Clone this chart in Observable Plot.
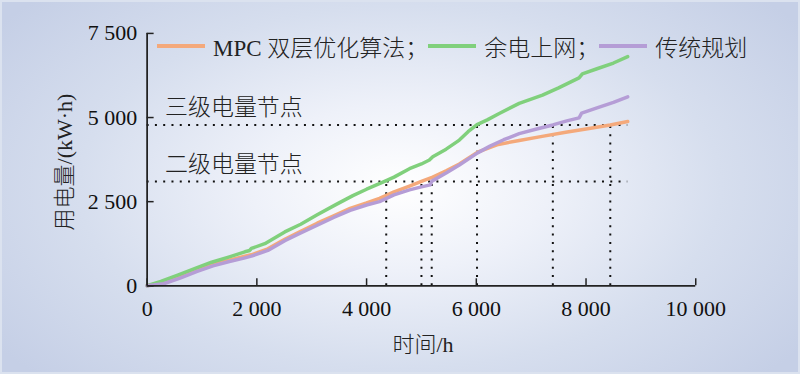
<!DOCTYPE html>
<html>
<head>
<meta charset="utf-8">
<script src="https://cdn.jsdelivr.net/npm/d3@7"></script>
<script src="https://cdn.jsdelivr.net/npm/@observablehq/plot@0.6"></script>
<style>
  html, body { margin: 0; padding: 0; }
  #wrap {
    position: relative; width: 800px; height: 374px; overflow: hidden;
    box-sizing: border-box; border: 2px solid #dbe2ef;
    background: radial-gradient(ellipse 62% 75% at 50% 50%, #ffffff 0%, #eef1f9 30%, #d6deee 65%, #c5cfe6 100%);
    font-family: "Liberation Serif", "Noto Sans CJK SC", serif;
    color: #222;
  }
  #chart { position: absolute; left: -2px; top: -2px; }
  .legend { position: absolute; top: 27px; left: 155px; display: flex; align-items: center; font-size: 23px; white-space: nowrap; font-weight: 300; }
  .legend .sw { display: inline-block; width: 48px; height: 3.5px; margin-right: 8px; }
  .legend .it { display: flex; align-items: center; }
  .ylab { position: absolute; left: 60px; top: 160px; transform: translate(-50%, -50%) rotate(-90deg); font-size: 22px; white-space: nowrap; font-weight: 300; }
  .xlab { position: absolute; left: 421px; top: 340px; transform: translate(-50%, -50%); font-size: 22px; white-space: nowrap; font-weight: 300; }
</style>
</head>
<body>
<div id="wrap">
  <div id="chart"></div>
</div>
<script>
// Series names and colours
const seriesNames = ["MPC 双层优化算法", "余电上网", "传统规划"];
const seriesColors = ["#f4a97b", "#80d07c", "#b59dd6"];

// MPC 双层优化算法 (hour, kW·h)
const mpcX = [0,300,600,900,1200,1500,1782,1900,2200,2509,2800,3100,3400,3700,4000,4236,4500,4782,5000,5206,5450,5691,6024,6400,6782,7200,7630,8000,8442,8760];
const mpcY = [0,110,290,470,640,760,880,920,1100,1380,1620,1860,2080,2300,2460,2600,2790,2960,3100,3230,3420,3620,3970,4200,4320,4440,4560,4660,4780,4880];

// 余电上网
const gridX = [0,250,570,900,1176,1500,1782,1870,1900,2145,2300,2509,2800,3100,3448,3750,4000,4297,4500,4782,5000,5145,5206,5450,5691,5850,6013,6200,6418,6782,7206,7500,7873,7933,8200,8500,8760];
const gridY = [0,130,326,530,700,860,1010,1050,1110,1250,1400,1600,1830,2110,2420,2680,2870,3080,3230,3480,3620,3737,3835,4060,4330,4580,4790,4930,5120,5420,5665,5880,6180,6300,6450,6620,6810];

// 传统规划
const tradX = [0,300,600,900,1200,1500,1782,1900,2200,2509,2800,3100,3400,3700,4000,4236,4500,4782,5000,5160,5190,5450,5691,6024,6250,6500,6782,7100,7395,7650,7873,7920,8200,8500,8760];
const tradY = [0,60,230,420,590,720,830,880,1050,1340,1570,1800,2030,2240,2400,2500,2700,2850,2940,3000,3110,3350,3590,3950,4150,4340,4520,4660,4780,4900,4990,5130,5290,5450,5615];

// Node levels and crossing hours
const levelNames = ["二级电量节点", "三级电量节点"];
const levelValues = [3100, 4780];
const crossX = [4358, 5000, 5187, 6013, 7395, 8442];
const crossLevel = [3100, 3100, 3100, 4780, 4780, 4780];

// Axis ticks
const xTicks = [0, 2000, 4000, 6000, 8000, 10000];
const yTicks = [0, 2500, 5000, 7500];
const xEnd = 8760;

const fmt = d => d3.format(",")(d).replace(/,/g, " ");

const rows = [];
[[mpcX, mpcY], [gridX, gridY], [tradX, tradY]].forEach(([xs, ys], i) => {
  xs.forEach((x, j) => rows.push({series: seriesNames[i], x, y: ys[j]}));
});
const crossings = crossX.map((x, i) => ({x, y: crossLevel[i]}));
const levels = levelValues.map((v, i) => ({y: v, name: levelNames[i]}));

const font = "'Liberation Serif', 'Noto Sans CJK SC', serif";

const chart = Plot.plot({
  width: 800, height: 374,
  marginLeft: 147, marginRight: 103, marginTop: 33, marginBottom: 88,
  style: {background: "transparent", fontFamily: font, fontSize: "22px", color: "#222", overflow: "visible"},
  x: {domain: [0, 10000], label: null},
  y: {domain: [0, 7500], label: null},
  color: {domain: seriesNames, range: seriesColors},
  marks: [
    Plot.ruleY(levels, {y: "y", x1: 0, x2: xEnd, stroke: "#111", strokeWidth: 2, strokeDasharray: "2,6.3"}),
    Plot.ruleX(crossings, {x: "x", y1: 0, y2: "y", stroke: "#111", strokeWidth: 2, strokeDasharray: "2,6.3"}),
    Plot.text(levels, {x: 0, y: "y", text: "name", textAnchor: "start", dx: 18, dy: -17, fontSize: 23, fill: "#222", fontFamily: "'Noto Sans CJK SC', sans-serif", fontWeight: 300, style: "letter-spacing:1px"}),
    Plot.line(rows, {x: "x", y: "y", z: "series", stroke: "series", strokeWidth: 3.5, curve: "linear"}),
    Plot.axisX({ticks: xTicks, tickFormat: fmt, tickSize: -7, tickPadding: 22, strokeWidth: 1.5, stroke: "#222", fill: "#111", label: null}),
    Plot.axisY({ticks: yTicks, tickFormat: fmt, tickSize: -7, tickPadding: 17, strokeWidth: 1.5, stroke: "#222", fill: "#111", label: null}),
    Plot.ruleY([0], {x1: 0, x2: 10000, stroke: "#222", strokeWidth: 1.8}),
    Plot.ruleX([0], {y1: 0, y2: 7500, stroke: "#222", strokeWidth: 1.8})
  ]
});
document.getElementById("chart").appendChild(chart);

const wrap = document.getElementById("wrap");
const leg = document.createElement("div");
leg.className = "legend";
const sepNames = seriesNames.map((n, i) => i < seriesNames.length - 1 ? n + "；" : n);
sepNames.forEach((n, i) => {
  const it = document.createElement("span");
  it.className = "it";
  const sw = document.createElement("span");
  sw.className = "sw";
  sw.style.background = seriesColors[i];
  const tx = document.createElement("span");
  tx.textContent = n;
  it.appendChild(sw); it.appendChild(tx);
  leg.appendChild(it);
});
wrap.appendChild(leg);

const yl = document.createElement("div");
yl.className = "ylab"; yl.textContent = "用电量/(kW·h)";
wrap.appendChild(yl);
const xl = document.createElement("div");
xl.className = "xlab"; xl.textContent = "时间/h";
wrap.appendChild(xl);
</script>
</body>
</html>
